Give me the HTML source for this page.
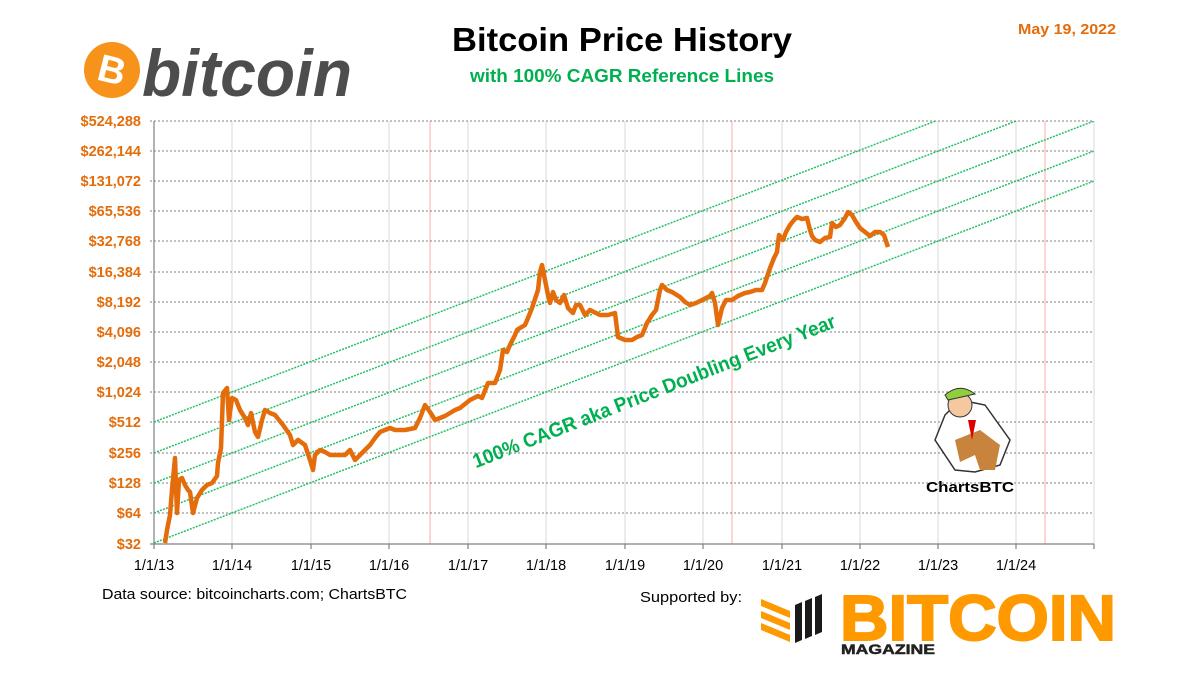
<!DOCTYPE html>
<html><head><meta charset="utf-8"><style>
html,body{margin:0;padding:0;background:#fff;}
svg{display:block;font-family:"Liberation Sans Narrow","Liberation Sans",sans-serif;}
</style></head><body>
<svg width="1200" height="675" viewBox="0 0 1200 675" xmlns="http://www.w3.org/2000/svg">
<rect width="1200" height="675" fill="#fff"/>
<!-- logo -->
<circle cx="112" cy="70" r="28" fill="#f7931a"/>
<text x="112" y="83" text-anchor="middle" font-family="Liberation Sans,sans-serif" font-weight="bold" font-size="38" fill="#fff" transform="rotate(14 112 70)">B</text>
<text x="142" y="96" font-family="Liberation Sans,sans-serif" font-weight="bold" font-style="italic" font-size="66" fill="#4d4d4d" textLength="210" lengthAdjust="spacingAndGlyphs">bitcoin</text>
<!-- titles -->
<text x="622" y="51" text-anchor="middle" font-weight="bold" font-size="33" fill="#000" textLength="340" lengthAdjust="spacingAndGlyphs">Bitcoin Price History</text>
<text x="622" y="82" text-anchor="middle" font-weight="bold" font-size="18" fill="#00b050" textLength="304" lengthAdjust="spacingAndGlyphs">with 100% CAGR Reference Lines</text>
<text x="1067" y="34" text-anchor="middle" font-weight="bold" font-size="15" fill="#e46c0a" textLength="98" lengthAdjust="spacingAndGlyphs">May 19, 2022</text>
<!-- grid -->
<g stroke="#d9d9d9" stroke-width="1">
<line x1="232" y1="121" x2="232" y2="544"/><line x1="311" y1="121" x2="311" y2="544"/><line x1="389" y1="121" x2="389" y2="544"/><line x1="468" y1="121" x2="468" y2="544"/><line x1="546" y1="121" x2="546" y2="544"/><line x1="625" y1="121" x2="625" y2="544"/><line x1="703" y1="121" x2="703" y2="544"/><line x1="782" y1="121" x2="782" y2="544"/><line x1="860" y1="121" x2="860" y2="544"/><line x1="938" y1="121" x2="938" y2="544"/><line x1="1016" y1="121" x2="1016" y2="544"/><line x1="1094" y1="121" x2="1094" y2="544"/>
</g>
<g stroke="#ffaaaa" stroke-width="1"><line x1="430" y1="121" x2="430" y2="544"/><line x1="732" y1="121" x2="732" y2="544"/><line x1="1045" y1="121" x2="1045" y2="544"/></g>
<g stroke="#808080" stroke-width="1" stroke-dasharray="2,2">
<line x1="150" y1="121" x2="1094" y2="121"/><line x1="150" y1="151" x2="1094" y2="151"/><line x1="150" y1="181" x2="1094" y2="181"/><line x1="150" y1="211" x2="1094" y2="211"/><line x1="150" y1="241" x2="1094" y2="241"/><line x1="150" y1="272" x2="1094" y2="272"/><line x1="150" y1="302" x2="1094" y2="302"/><line x1="150" y1="332" x2="1094" y2="332"/><line x1="150" y1="362" x2="1094" y2="362"/><line x1="150" y1="392" x2="1094" y2="392"/><line x1="150" y1="422" x2="1094" y2="422"/><line x1="150" y1="453" x2="1094" y2="453"/><line x1="150" y1="483" x2="1094" y2="483"/><line x1="150" y1="513" x2="1094" y2="513"/>
</g>
<!-- axes -->
<g stroke="#808080" stroke-width="1.2">
<line x1="154" y1="121" x2="154" y2="544"/><line x1="150" y1="544" x2="1094" y2="544"/>
<line x1="154" y1="544" x2="154" y2="549"/><line x1="232" y1="544" x2="232" y2="549"/><line x1="311" y1="544" x2="311" y2="549"/><line x1="389" y1="544" x2="389" y2="549"/><line x1="468" y1="544" x2="468" y2="549"/><line x1="546" y1="544" x2="546" y2="549"/><line x1="625" y1="544" x2="625" y2="549"/><line x1="703" y1="544" x2="703" y2="549"/><line x1="782" y1="544" x2="782" y2="549"/><line x1="860" y1="544" x2="860" y2="549"/><line x1="938" y1="544" x2="938" y2="549"/><line x1="1016" y1="544" x2="1016" y2="549"/><line x1="1094" y1="544" x2="1094" y2="549"/>
</g>
<!-- CAGR lines -->
<g stroke="#22c063" stroke-width="1.5" stroke-dasharray="2,1.2" clip-path="url(#c)">
<line x1="154" y1="422" x2="1094" y2="60"/><line x1="154" y1="453" x2="1094" y2="91"/><line x1="154" y1="483" x2="1094" y2="121"/><line x1="154" y1="513" x2="1094" y2="151"/><line x1="154" y1="543" x2="1094" y2="181"/>
</g>
<defs><clipPath id="c"><rect x="154" y="121" width="940" height="423"/></clipPath></defs>
<!-- y labels -->
<g font-weight="bold" font-size="14.5" fill="#e46c0a" text-anchor="end">
<text x="141" y="126">$524,288</text><text x="141" y="156">$262,144</text><text x="141" y="186">$131,072</text><text x="141" y="216">$65,536</text><text x="141" y="246">$32,768</text><text x="141" y="277">$16,384</text><text x="141" y="307">$8,192</text><text x="141" y="337">$4,096</text><text x="141" y="367">$2,048</text><text x="141" y="397">$1,024</text><text x="141" y="427">$512</text><text x="141" y="458">$256</text><text x="141" y="488">$128</text><text x="141" y="518">$64</text><text x="141" y="549">$32</text>
</g>
<g font-size="14.5" fill="#000" text-anchor="middle">
<text x="154" y="570">1/1/13</text><text x="232" y="570">1/1/14</text><text x="311" y="570">1/1/15</text><text x="389" y="570">1/1/16</text><text x="468" y="570">1/1/17</text><text x="546" y="570">1/1/18</text><text x="625" y="570">1/1/19</text><text x="703" y="570">1/1/20</text><text x="782" y="570">1/1/21</text><text x="860" y="570">1/1/22</text><text x="938" y="570">1/1/23</text><text x="1016" y="570">1/1/24</text>
</g>
<!-- price -->
<polyline fill="none" stroke="#e46c0a" stroke-width="4.5" stroke-linejoin="round" points="165,543 167,530 170,515 172,490 175,458 177,513 179,480 182,478 185,485 188,490 190,492 193,513 197,498 202,490 207,485 212,483 217,476 218,463 221,448 223,393 227,388 229,420 232,398 236,400 240,410 245,418 248,425 251,413 255,432 258,437 262,420 265,410 270,413 275,415 283,425 290,435 293,445 298,440 305,445 310,460 313,470 315,455 320,450 325,452 330,455 340,455 345,455 350,450 355,460 360,455 365,450 370,445 375,438 380,432 390,428 395,430 405,430 415,428 420,418 425,405 430,412 435,420 445,416 455,410 460,408 470,400 478,396 482,398 488,383 495,383 500,370 503,350 507,352 510,345 515,335 517,330 520,328 525,325 528,318 532,308 538,290 540,272 542,265 545,280 548,295 550,303 553,292 556,300 560,303 564,295 568,308 573,313 576,305 580,305 585,315 590,310 600,315 608,315 615,313 618,337 625,340 632,340 637,337 642,335 647,323 652,315 656,310 660,290 662,285 667,290 672,292 680,297 685,302 690,305 696,303 702,300 710,296 712,293 715,303 718,325 722,308 726,300 732,300 738,296 745,293 750,292 756,290 762,290 765,283 770,268 774,258 777,252 779,235 783,240 786,232 790,225 794,220 797,217 802,219 807,218 810,230 812,236 815,240 820,242 825,238 830,237 832,223 836,227 840,225 845,218 848,212 852,215 856,222 860,228 865,232 870,236 875,232 880,232 884,235 888,247"/>
<!-- rotated annotation -->
<text x="654" y="398" text-anchor="middle" font-weight="bold" font-size="20" fill="#00b050" transform="rotate(-21.4 654 391)" textLength="388" lengthAdjust="spacingAndGlyphs">100% CAGR aka Price Doubling Every Year</text>
<!-- ChartsBTC mascot -->
<g>
<path d="M945 415 L960 400 L985 405 L1010 440 L1000 465 L975 472 L955 470 L935 440 Z" fill="#fff" stroke="#333" stroke-width="1.5"/>
<path d="M955 440 L980 430 L1000 445 L995 470 L980 470 L975 455 L960 462 Z" fill="#c8843d"/>
<circle cx="960" cy="405" r="12" fill="#f5c9a0" stroke="#333"/>
<path d="M945 395 Q960 382 975 394 L948 400 Z" fill="#8fcf3c" stroke="#333"/>
<path d="M968 420 L972 440 L976 420 Z" fill="#d00"/>
</g>
<text x="970" y="492" text-anchor="middle" font-family="'Liberation Sans',sans-serif" font-weight="bold" font-size="15" fill="#000" textLength="88" lengthAdjust="spacingAndGlyphs">ChartsBTC</text>
<!-- footer -->
<text x="102" y="599" font-size="15" fill="#000" textLength="305" lengthAdjust="spacingAndGlyphs">Data source: bitcoincharts.com; ChartsBTC</text>
<text x="640" y="602" font-size="15" fill="#000" textLength="102" lengthAdjust="spacingAndGlyphs">Supported by:</text>
<g>
<polygon points="761,599 790,611 790,618 761,606" fill="#ff9900"/>
<polygon points="761,611 790,623 790,630 761,618" fill="#ff9900"/>
<polygon points="761,623 790,635 790,642 761,630" fill="#ff9900"/>
<polygon points="795,605 802,602 802,640 795,643" fill="#1a1a1a"/>
<polygon points="805,601 812,598 812,636 805,639" fill="#1a1a1a"/>
<polygon points="815,597 822,594 822,632 815,635" fill="#1a1a1a"/>
</g>
<text x="840" y="640" font-family="'Liberation Sans',sans-serif" font-weight="bold" font-size="64" fill="#ff9900" stroke="#ff9900" stroke-width="2" textLength="276" lengthAdjust="spacingAndGlyphs">BITCOIN</text>
<text x="841" y="654" font-family="'Liberation Sans',sans-serif" font-weight="bold" font-size="14" fill="#222" stroke="#222" stroke-width="0.5" textLength="94" lengthAdjust="spacingAndGlyphs">MAGAZINE</text>
</svg>
</body></html>
